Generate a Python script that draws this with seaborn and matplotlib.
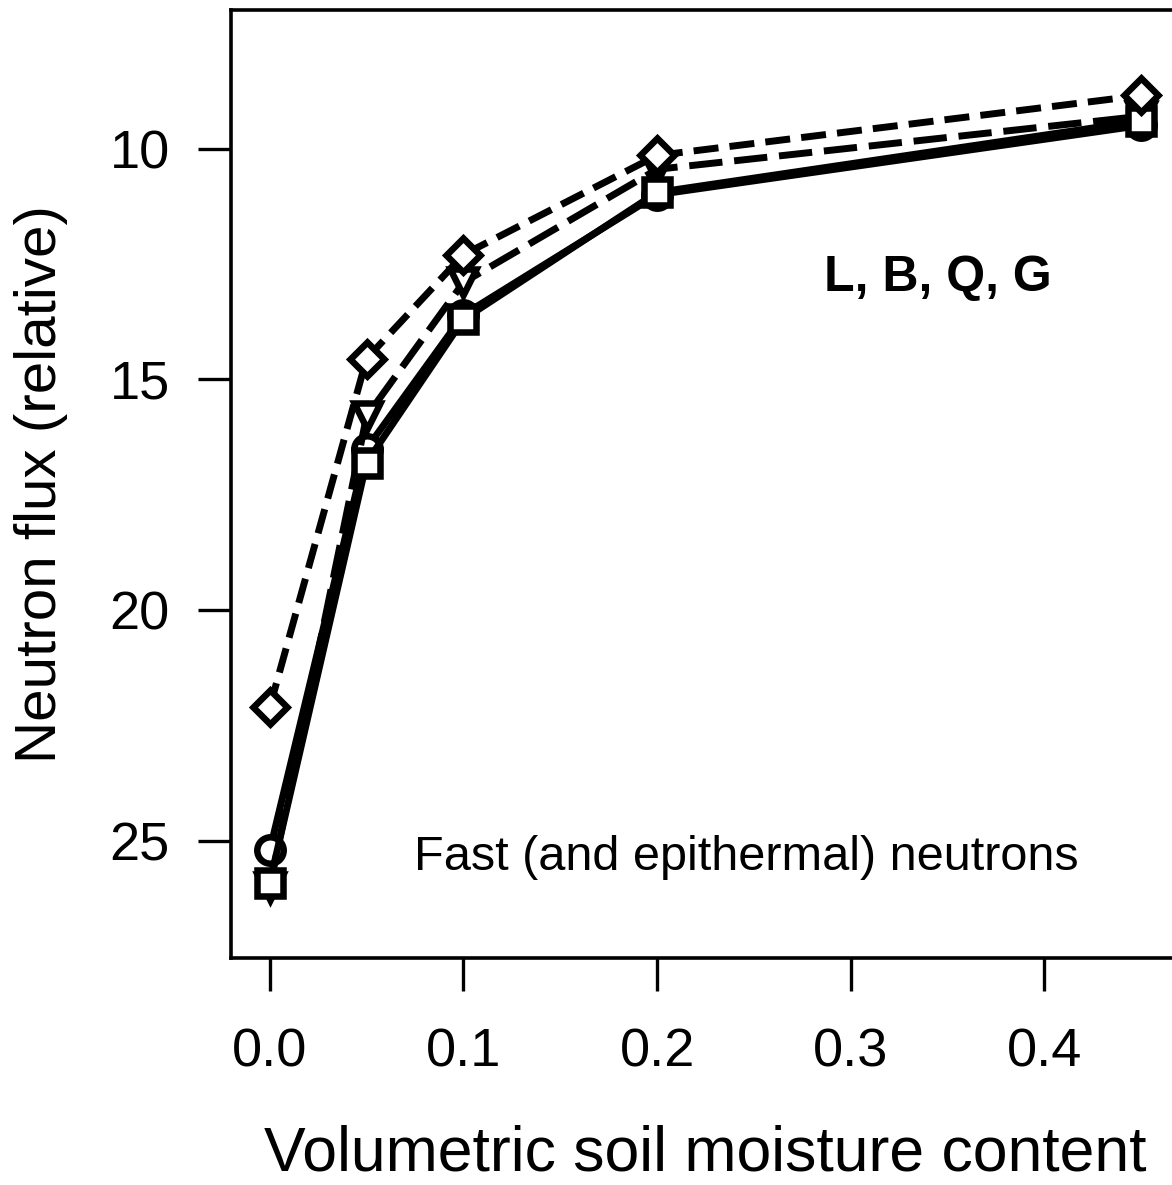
import matplotlib
matplotlib.use("Agg")
import matplotlib.pyplot as plt
import seaborn as sns
import pandas as pd

# Soil moisture levels (volumetric) and relative fast-neutron flux per soil type
moisture = [0.0, 0.05, 0.1, 0.2, 0.45]
flux_circle = [25.2, 16.5, 13.6, 11.0, 9.5]
flux_triangle = [26.0, 15.8, 12.9, 10.45, 9.3]
flux_square = [25.9, 16.8, 13.7, 10.95, 9.4]
flux_diamond = [22.1, 14.55, 12.3, 10.15, 8.85]

series_names = ["circle", "triangle", "square", "diamond"]
series_values = [flux_circle, flux_triangle, flux_square, flux_diamond]

rows = []
for name, vals in zip(series_names, series_values):
    for x, y in zip(moisture, vals):
        rows.append({"moisture": x, "flux": y, "series": name})
df = pd.DataFrame(rows)

sns.set_theme(style="white")
plt.rcParams["font.family"] = ["Liberation Sans", "DejaVu Sans"]
plt.rcParams["text.color"] = "black"
plt.rcParams["axes.labelcolor"] = "black"

fig = plt.figure(figsize=(11.72, 11.85), dpi=100)
W, H = 1172, 1185
ax = fig.add_axes([231 / W, 1 - 958 / H, (1180 - 231) / W, (958 - 10) / H])

styles = {
    "circle": dict(marker="o", dashes=None, ms=19),
    "triangle": dict(marker="v", dashes=(4.8, 1.7), ms=19),
    "square": dict(marker="s", dashes=None, ms=19),
    "diamond": dict(marker="D", dashes=(3.6, 1.6), ms=17),
}

for z, name in enumerate(series_names):
    st = styles[name]
    sub = df[df["series"] == name]
    sns.lineplot(data=sub, x="moisture", y="flux", ax=ax, color="black",
                 marker=st["marker"], markersize=st["ms"],
                 markerfacecolor="white", markeredgecolor="black",
                 markeredgewidth=4.7, linewidth=5, zorder=3 + z,
                 errorbar=None, legend=False)
    line = ax.lines[-1]
    if st["dashes"] is not None:
        line.set_dashes(st["dashes"])
        line.set_dash_capstyle("butt")

ax.set_xlim(-0.02, 0.47)
ax.set_ylim(27.53, 7.0)
ax.set_xticks([0.0, 0.1, 0.2, 0.3, 0.4])
ax.set_xticklabels(["0.0", "0.1", "0.2", "0.3", "0.4"])
ax.set_yticks([10, 15, 20, 25])

for sp in ax.spines.values():
    sp.set_linewidth(2.6)
    sp.set_color("black")

ax.tick_params(axis="both", which="major", bottom=True, left=True,
               direction="out", length=24, width=2.4,
               color="black", labelcolor="black", labelsize=39, pad=20)
ax.tick_params(axis="x", pad=26)

ax.set_xlabel("Volumetric soil moisture content", fontsize=45, labelpad=34)
ax.set_ylabel("Neutron flux (relative)", fontsize=42, labelpad=30)

ax.text(0.345, 12.8, "L, B, Q, G", fontsize=36, fontweight="bold",
        ha="center", va="center")
ax.text(0.246, 25.35, "Fast (and epithermal) neutrons", fontsize=35,
        ha="center", va="center")

fig.savefig("out.png", dpi=100)
